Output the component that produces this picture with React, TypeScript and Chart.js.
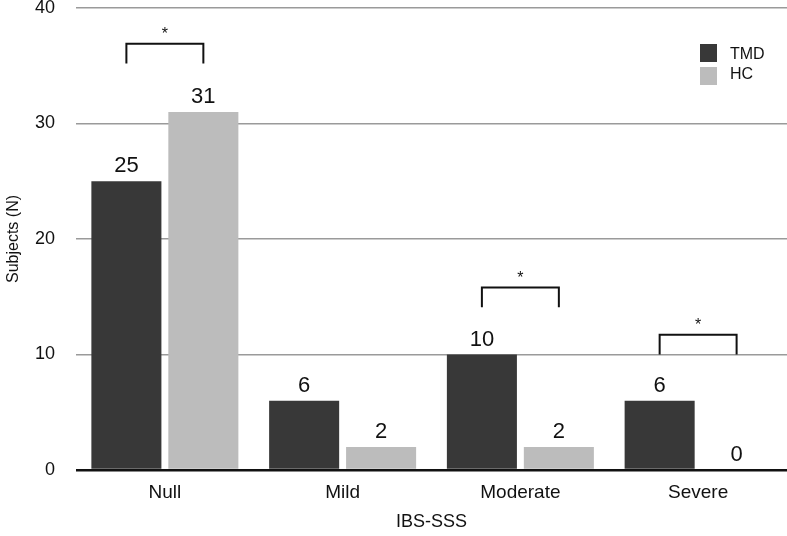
import React, { useEffect, useRef } from "react";
import { Chart, registerables } from "chart.js";

Chart.register(...registerables);

const categories = ["Null", "Mild", "Moderate", "Severe"];
const seriesNames = ["TMD", "HC"];
const tmdValues = [25, 6, 10, 6];
const hcValues = [31, 2, 2, 0];
const yTickValues = [0, 10, 20, 30, 40];
const sigCategories = ["Null", "Moderate", "Severe"];
const sigBracketBottom = [35.2, 14.1, 10.0];
const sigBracketTop = [36.9, 15.8, 11.7];

const COLORS = ["#383838", "#bcbcbc"];
const FONT = "'Liberation Sans', Arial, Helvetica, sans-serif";

const overlayPlugin = {
  id: "overlay",
  afterDatasetsDraw(chart: any) {
    const ctx = chart.ctx;
    const yScale = chart.scales.y;
    ctx.save();
    // value labels
    ctx.fillStyle = "#111";
    ctx.font = `22px ${FONT}`;
    ctx.textAlign = "center";
    ctx.textBaseline = "alphabetic";
    chart.data.datasets.forEach((ds: any, di: number) => {
      const meta = chart.getDatasetMeta(di);
      meta.data.forEach((el: any, i: number) => {
        ctx.fillText(String(ds.data[i]), el.x, el.y - 9);
      });
    });
    // significance brackets
    ctx.strokeStyle = "#111";
    ctx.lineWidth = 2;
    ctx.font = `16px ${FONT}`;
    sigCategories.forEach((cat, k) => {
      const idx = categories.indexOf(cat);
      const x1 = chart.getDatasetMeta(0).data[idx].x;
      const x2 = chart.getDatasetMeta(1).data[idx].x;
      const yb = yScale.getPixelForValue(sigBracketBottom[k]);
      const yt = yScale.getPixelForValue(sigBracketTop[k]);
      ctx.beginPath();
      ctx.moveTo(x1, yb);
      ctx.lineTo(x1, yt);
      ctx.lineTo(x2, yt);
      ctx.lineTo(x2, yb);
      ctx.stroke();
      ctx.textBaseline = "alphabetic";
      ctx.fillText("*", (x1 + x2) / 2, yt - 5);
    });
    // legend
    const lx = chart.chartArea.right - 87;
    const ly = 44;
    ctx.textAlign = "left";
    ctx.textBaseline = "middle";
    ctx.font = `16px ${FONT}`;
    seriesNames.forEach((name, i) => {
      ctx.fillStyle = COLORS[i];
      ctx.fillRect(lx, ly + i * 23, 17, 18);
      ctx.fillStyle = "#111";
      ctx.fillText(name, lx + 30, ly + 11 + i * 20);
    });
    ctx.restore();
  },
};

export default function App() {
  const ref = useRef<HTMLCanvasElement>(null);
  useEffect(() => {
    if (!ref.current) return;
    const chart = new Chart(ref.current, {
      type: "bar",
      data: {
        labels: categories,
        datasets: [
          { label: seriesNames[0], data: tmdValues, backgroundColor: COLORS[0], categoryPercentage: 0.866, barPercentage: 0.91 },
          { label: seriesNames[1], data: hcValues, backgroundColor: COLORS[1], categoryPercentage: 0.866, barPercentage: 0.91 },
        ],
      },
      options: {
        animation: false,
        responsive: true,
        maintainAspectRatio: false,
        layout: { padding: { top: 8, right: 0, left: 0, bottom: 0 } },
        plugins: { legend: { display: false }, tooltip: { enabled: false } },
        scales: {
          x: {
            grid: { display: false },
            border: { display: false },
            ticks: { color: "#111", font: { size: 19, family: FONT }, padding: 3 },
            title: { display: true, text: "IBS-SSS", color: "#111", font: { size: 18, family: FONT }, padding: { top: 4, bottom: 3 } },
            afterFit: (s: any) => { s.height = 66; },
          },
          y: {
            min: 0,
            max: 40,
            afterBuildTicks: (s: any) => { s.ticks = yTickValues.map((v) => ({ value: v })); },
            grid: {
              color: (c: any) => (c.tick && c.tick.value === 0 ? "#111" : "#9a9a9a"),
              lineWidth: (c: any) => (c.tick && c.tick.value === 0 ? 2.5 : 1.5),
              drawTicks: false,
            },
            border: { display: false },
            ticks: { color: "#111", font: { size: 18, family: FONT }, padding: 21 },
            title: { display: true, text: "Subjects (N)", color: "#111", font: { size: 16, family: FONT }, padding: { bottom: 0 } },
            afterFit: (s: any) => { s.width = 76; s.paddingTop = 0; s.paddingBottom = 0; },
          },
        },
      },
      plugins: [overlayPlugin],
    });
    return () => chart.destroy();
  }, []);
  return (
    <div style={{ position: "fixed", left: 0, top: 0, width: 787, height: 536, background: "#fff" }}>
      <canvas ref={ref} />
    </div>
  );
}
